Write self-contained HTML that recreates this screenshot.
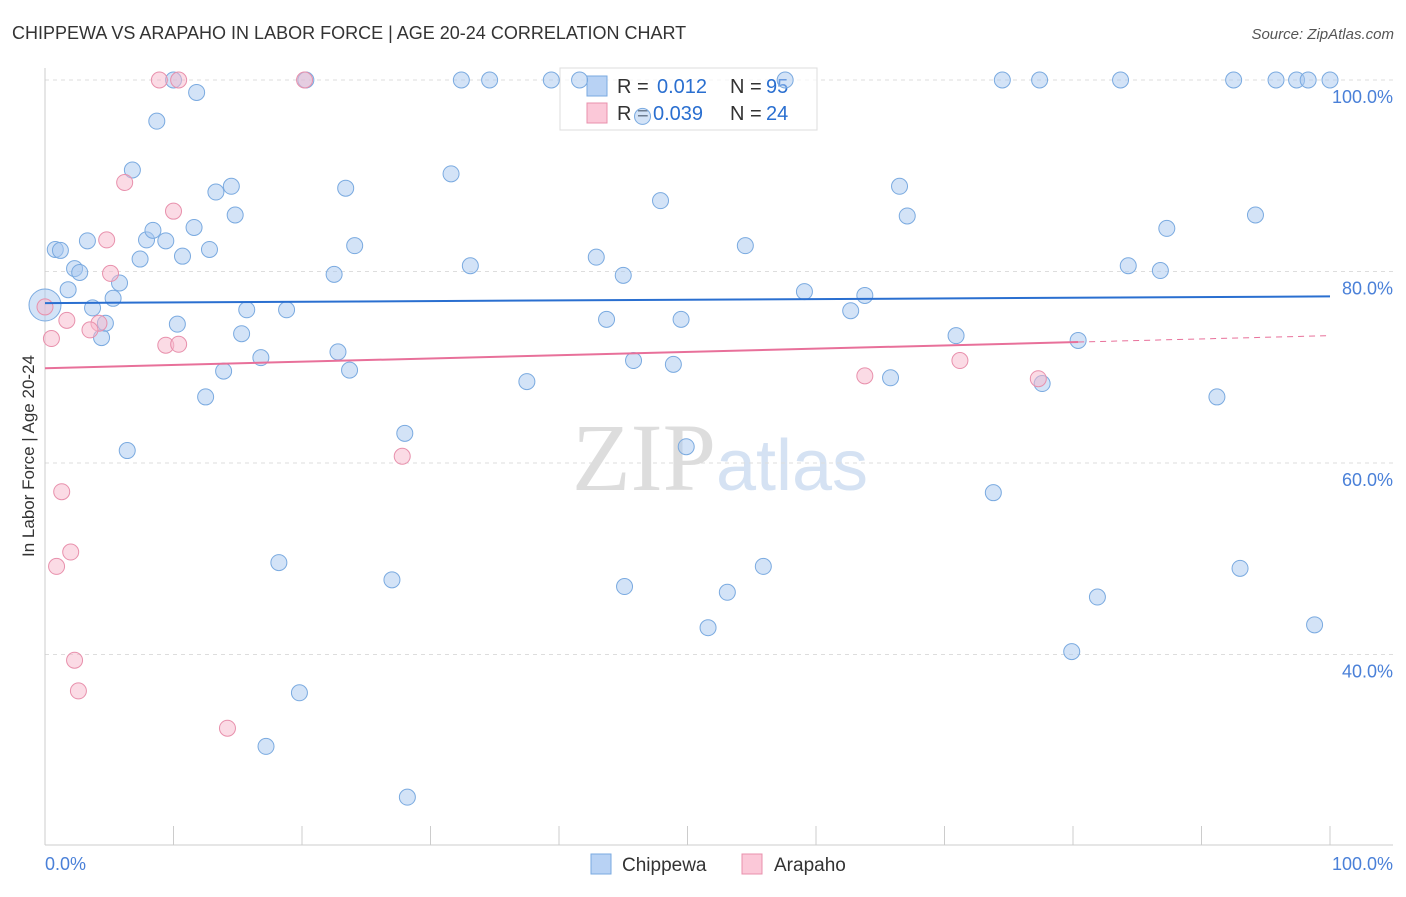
<!DOCTYPE html>
<html><head><meta charset="utf-8">
<style>
body{margin:0;background:#fff;font-family:"Liberation Sans",sans-serif;}
svg text{font-family:"Liberation Sans",sans-serif;}
</style></head>
<body>
<svg id="chart" width="1406" height="892" xmlns="http://www.w3.org/2000/svg">
<text x="12" y="39" font-size="18" fill="#333">CHIPPEWA VS ARAPAHO IN LABOR FORCE | AGE 20-24 CORRELATION CHART</text>
<text x="1394" y="39" font-size="15" fill="#555" text-anchor="end" font-style="italic">Source: ZipAtlas.com</text>
<text x="720" y="490" font-size="96" text-anchor="middle"><tspan fill="#ddd" font-family="Liberation Serif">ZIP</tspan><tspan fill="#d5e2f3" font-size="72">atlas</tspan></text>
<g id="grid"></g>
<g id="axes"></g>
<g>
<rect x="560" y="68" width="257" height="62" fill="#fff" fill-opacity="0.7" stroke="#ddd"/>
<rect x="587" y="76" width="20" height="20" fill="#b8d2f4" stroke="#7aaae0"/>
<rect x="587" y="103" width="20" height="20" fill="#fbc8d8" stroke="#e890ac"/>
<text x="617" y="93" font-size="20" fill="#333">R =</text>
<text x="657" y="93" font-size="20" fill="#2a6fd0">0.012</text>
<text x="730" y="93" font-size="20" fill="#333">N =</text>
<text x="766" y="93" font-size="20" fill="#2a6fd0">95</text>
<text x="617" y="120" font-size="20" fill="#333">R =</text>
<text x="653" y="120" font-size="20" fill="#2a6fd0">0.039</text>
<text x="730" y="120" font-size="20" fill="#333">N =</text>
<text x="766" y="120" font-size="20" fill="#2a6fd0">24</text>
</g>
<g id="pts"></g>
<g id="trend"></g>
<text transform="translate(34,456) rotate(-90)" font-size="17" fill="#333" text-anchor="middle">In Labor Force | Age 20-24</text>
<text x="45" y="870" font-size="18" fill="#4a80d8">0.0%</text>
<text x="1393" y="870" font-size="18" fill="#4a80d8" text-anchor="end">100.0%</text>
<g>
<rect x="591" y="854" width="20" height="20" fill="#b8d2f4" stroke="#7aaae0"/>
<text x="622" y="871" font-size="19" fill="#333">Chippewa</text>
<rect x="742" y="854" width="20" height="20" fill="#fbc8d8" stroke="#e890ac"/>
<text x="774" y="871" font-size="19" fill="#333">Arapaho</text>
</g>
</svg>
<script>
const yTicks=[100,80,60,40];
const yTickLabels=["100.0%","80.0%","60.0%","40.0%"];
const xTicks=[0,10,20,30,40,50,60,70,80,90,100];
const chipX=[0,0.8,1.2,1.8,2.3,2.7,3.3,3.7,4.4,4.7,5.3,5.8,6.4,6.8,7.4,7.9,8.4,8.7,9.4,10.0,10.3,10.7,11.6,11.8,12.5,12.8,13.3,13.9,14.5,14.8,15.3,15.7,16.8,17.2,18.2,18.8,19.8,20.3,22.5,22.8,23.4,23.7,24.1,27.0,28.0,28.2,31.6,32.4,33.1,34.6,37.5,39.4,41.6,42.9,43.7,45.0,45.1,45.8,46.5,47.9,48.9,49.5,49.9,51.6,53.1,54.5,55.9,57.6,59.1,62.7,63.8,65.8,66.5,67.1,70.9,73.8,74.5,77.4,77.6,79.9,80.4,81.9,83.7,84.3,86.8,87.3,91.2,92.5,93.0,94.2,95.8,97.4,98.3,98.8,100];
const chipY=[76.5,82.3,82.2,78.1,80.3,79.9,83.2,76.2,73.1,74.6,77.2,78.8,61.3,90.6,81.3,83.3,84.3,95.7,83.2,100,74.5,81.6,84.6,98.7,66.9,82.3,88.3,69.6,88.9,85.9,73.5,76.0,71.0,30.4,49.6,76.0,36.0,100,79.7,71.6,88.7,69.7,82.7,47.8,63.1,25.1,90.2,100,80.6,100,68.5,100,100,81.5,75.0,79.6,47.1,70.7,96.2,87.4,70.3,75.0,61.7,42.8,46.5,82.7,49.2,100,77.9,75.9,77.5,68.9,88.9,85.8,73.3,56.9,100,100,68.3,40.3,72.8,46.0,100,80.6,80.1,84.5,66.9,100,49.0,85.9,100,100,100,43.1,100];
const arapX=[0,0.5,0.9,1.3,1.7,2.0,2.3,2.6,4.2,4.8,5.1,3.5,6.2,8.9,9.4,10.0,10.4,10.4,14.2,20.2,27.8,63.8,71.2,77.3];
const arapY=[76.3,73.0,49.2,57.0,74.9,50.7,39.4,36.2,74.6,83.3,79.8,73.9,89.3,100,72.3,86.3,72.4,100,32.3,100,60.7,69.1,70.7,68.8];
const chipTrend=[76.7,77.4];
const arapTrend=[69.9,73.3];
const arapMaxX=80.4;

const NS="http://www.w3.org/2000/svg";
const xs=v=>45+v*12.85;
const ys=v=>80+(100-v)*9.575;
function mk(tag,attrs,parent){const e=document.createElementNS(NS,tag);for(const k in attrs)e.setAttribute(k,attrs[k]);parent.appendChild(e);return e;}
const grid=document.getElementById('grid'),axes=document.getElementById('axes'),pts=document.getElementById('pts'),tr=document.getElementById('trend');
yTicks.forEach((t,i)=>{
 const l=mk('line',{x1:45,x2:1393,y1:ys(t),y2:ys(t),stroke:'#ddd','stroke-dasharray':'4,4'},grid);
 
 
 const tx=mk('text',{x:1393,y:ys(t)+23,'font-size':18,fill:'#4a80d8','text-anchor':'end'},grid);
 tx.textContent=yTickLabels[i];
 
 
});
const la=mk('line',{x1:45,x2:45,y1:68,y2:845,stroke:'#ccc'},axes);


const ba=mk('line',{x1:45,x2:1393,y1:845,y2:845,stroke:'#ccc'},axes);


xTicks.forEach(t=>{
 const l=mk('line',{x1:xs(t),x2:xs(t),y1:826,y2:845,stroke:'#ccc'},axes);
 
 
});
chipX.forEach((x,i)=>{
 const c=mk('circle',{cx:xs(x),cy:ys(chipY[i]),r:i===0?16:8,fill:'rgba(168,200,240,0.5)',stroke:'#7aaae0','stroke-width':1},pts);
 
 
});
arapX.forEach((x,i)=>{
 const c=mk('circle',{cx:xs(x),cy:ys(arapY[i]),r:8,fill:'rgba(247,184,204,0.5)',stroke:'#e890ac','stroke-width':1},pts);
 
 
});
const bl=mk('line',{x1:xs(0),x2:xs(100),y1:ys(chipTrend[0]),y2:ys(chipTrend[1]),stroke:'#2a6fd0','stroke-width':2},tr);


const ym=arapTrend[0]+(arapTrend[1]-arapTrend[0])*arapMaxX/100;
const pl=mk('line',{x1:xs(0),x2:xs(arapMaxX),y1:ys(arapTrend[0]),y2:ys(ym),stroke:'#e8709a','stroke-width':2},tr);


const pd=mk('line',{x1:xs(arapMaxX),x2:xs(100),y1:ys(ym),y2:ys(arapTrend[1]),stroke:'#e8709a','stroke-width':1,'stroke-dasharray':'6,5'},tr);


</script>
</body></html>
